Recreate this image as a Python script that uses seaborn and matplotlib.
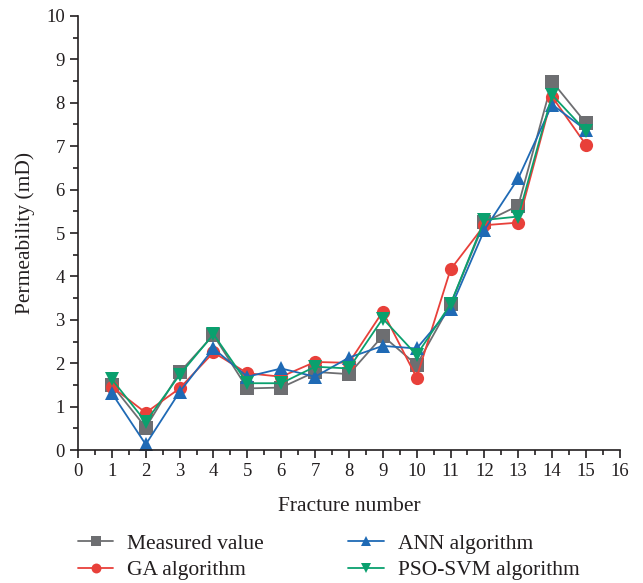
import matplotlib
matplotlib.use("Agg")
import matplotlib.pyplot as plt
import seaborn as sns
import pandas as pd
from matplotlib.ticker import MultipleLocator

fracture = list(range(1, 16))
measured = [1.50, 0.52, 1.79, 2.65, 1.42, 1.44, 1.80, 1.75, 2.63, 1.96, 3.36, 5.25, 5.63, 8.49, 7.53]
ga = [1.46, 0.86, 1.42, 2.25, 1.77, 1.69, 2.03, 2.01, 3.19, 1.67, 4.16, 5.18, 5.24, 8.14, 7.03]
ann = [1.31, 0.13, 1.34, 2.34, 1.69, 1.88, 1.69, 2.13, 2.40, 2.34, 3.26, 5.07, 6.26, 7.96, 7.37]
pso_svm = [1.63, 0.65, 1.73, 2.67, 1.54, 1.54, 1.92, 1.88, 3.03, 2.19, 3.36, 5.30, 5.38, 8.18, 7.35]

labels = ["Measured value", "GA algorithm", "ANN algorithm", "PSO-SVM algorithm"]
colors = ["#6d6e71", "#e8403a", "#1f6ab5", "#0aa06e"]
markers = ["s", "o", "^", "v"]

sns.set_style("ticks")
plt.rcParams["font.family"] = ["Liberation Serif", "DejaVu Serif"]

fig = plt.figure(figsize=(6.43, 5.83), dpi=100)
ax = fig.add_axes([0.1213, 0.228, 0.8427, 0.7446])

series = [measured, ga, ann, pso_svm]
for vals, lab, col, mk in zip(series, labels, colors, markers):
    df = pd.DataFrame({"x": fracture, "y": vals})
    sns.lineplot(data=df, x="x", y="y", ax=ax, color=col, marker=mk,
                 markersize=9.5, markeredgewidth=0, linewidth=1.3, label=lab)

ax.set_xlim(0, 16)
ax.set_ylim(0, 10)
ax.xaxis.set_major_locator(MultipleLocator(1))
ax.xaxis.set_minor_locator(MultipleLocator(0.5))
ax.yaxis.set_major_locator(MultipleLocator(1))
ax.yaxis.set_minor_locator(MultipleLocator(0.5))
ax.tick_params(which="major", direction="out", length=6, width=1.2, labelsize=13.5, colors="#231f20")
ax.tick_params(which="minor", direction="out", length=3.5, width=1.2, colors="#231f20")
for s in ["top", "right"]:
    ax.spines[s].set_visible(False)
for s in ["left", "bottom"]:
    ax.spines[s].set_linewidth(1.2)
    ax.spines[s].set_color("#231f20")

ax.set_xlabel("Fracture number", fontsize=15.5, color="#231f20", labelpad=12)
ax.set_ylabel("Permeability (mD)", fontsize=15.5, color="#231f20", labelpad=8)

leg = ax.legend(loc="upper left", bbox_to_anchor=(-0.028, -0.158), ncol=2, frameon=False,
                fontsize=15.5, handlelength=1.65, columnspacing=3.9, labelspacing=0.3,
                handletextpad=0.65, borderpad=0.2, markerscale=0.75)
for t in leg.get_texts():
    t.set_color("#231f20")

fig.savefig("out.png", dpi=100)
